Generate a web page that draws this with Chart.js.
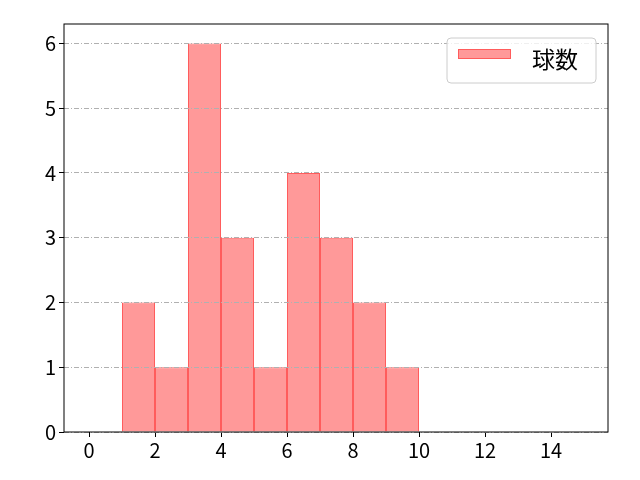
<!DOCTYPE html>
<html>
<head>
<meta charset="utf-8">
<script src="https://cdn.jsdelivr.net/npm/chart.js@4/dist/chart.umd.min.js"></script>
<style>
  html, body { margin: 0; padding: 0; background: #fff; }
  #wrap { width: 640px; height: 480px; }
</style>
</head>
<body>
<div id="wrap"><canvas id="histChart" width="640" height="480"></canvas></div>
<script>
// ===== DADOS =====
const binEdges = [1, 2, 3, 4, 5, 6, 7, 8, 9, 10];
const counts = [2, 1, 6, 3, 1, 4, 3, 2, 1];
const seriesLabel = "球数";
const xTicks = [0, 2, 4, 6, 8, 10, 12, 14];
const yTicks = [0, 1, 2, 3, 4, 5, 6];

const FONT = "'Noto Sans CJK JP', 'DejaVu Sans', sans-serif";
const fillColor = "#ff9999";
const edgeColor = "#ff5c5c";

// 544px de largura / 33px por unidade -> bordas das barras em pixels inteiros
const xMin = -25 / 33;
const xMax = xMin + 544 / 33;

const points = counts.map((c, i) => ({ x: (binEdges[i] + binEdges[i + 1]) / 2, y: c }));

// ===== MOLDURA + LEGENDA =====
const framePlugin = {
  id: "frame",
  afterDraw(chart) {
    const { ctx, chartArea: a } = chart;
    ctx.save();
    ctx.strokeStyle = "#000";
    ctx.lineWidth = 1;
    ctx.strokeRect(a.left, a.top, a.right - a.left, a.bottom - a.top);

    // legenda no canto superior direito
    const w = 149, h = 45;
    const lx = a.right - 12 - w, ly = a.top + 14;
    ctx.beginPath();
    ctx.roundRect(lx, ly, w, h, 4);
    ctx.fillStyle = "rgba(255,255,255,0.8)";
    ctx.fill();
    ctx.strokeStyle = "#cccccc";
    ctx.stroke();
    ctx.fillStyle = fillColor;
    ctx.fillRect(lx + 11, ly + 11, 53, 10);
    ctx.strokeStyle = edgeColor;
    ctx.strokeRect(lx + 11.5, ly + 11.5, 52, 9);
    ctx.fillStyle = "#000";
    ctx.font = "23px " + FONT;
    ctx.textBaseline = "middle";
    ctx.fillText(chart.data.datasets[0].label, lx + 85, ly + 21);
    ctx.restore();
  }
};

new Chart(document.getElementById("histChart"), {
  type: "bar",
  data: {
    datasets: [{
      label: seriesLabel,
      data: points,
      backgroundColor: fillColor,
      borderColor: edgeColor,
      borderWidth: 1,
      borderSkipped: "start",
      barPercentage: 1,
      categoryPercentage: 1,
      inflateAmount: 0
    }]
  },
  options: {
    responsive: false,
    animation: false,
    layout: { padding: { top: 24, right: 32, left: 0, bottom: 0 } },
    plugins: { legend: { display: false }, tooltip: { enabled: false } },
    scales: {
      x: {
        type: "linear",
        offset: false,
        min: xMin,
        max: xMax,
        afterBuildTicks: (s) => { s.ticks = xTicks.map(v => ({ value: v })); },
        afterFit: (s) => { s.height = 48; },
        grid: { offset: false, drawOnChartArea: false, tickColor: "#000", tickLength: 5 },
        border: { display: false },
        ticks: { color: "#000", font: { size: 20, family: FONT }, padding: 1, maxRotation: 0 }
      },
      y: {
        min: 0,
        max: 6.3,
        afterBuildTicks: (s) => { s.ticks = yTicks.map(v => ({ value: v })); },
        afterFit: (s) => { s.width = 64; },
        grid: { z: 1, color: "#b0b0b0", tickColor: "#000", tickLength: 5, tickBorderDash: [] },
        border: { display: false, dash: [5, 2, 1, 2] },
        ticks: { color: "#000", font: { size: 20, family: FONT }, padding: 3 }
      }
    }
  },
  plugins: [framePlugin]
});
</script>
</body>
</html>
